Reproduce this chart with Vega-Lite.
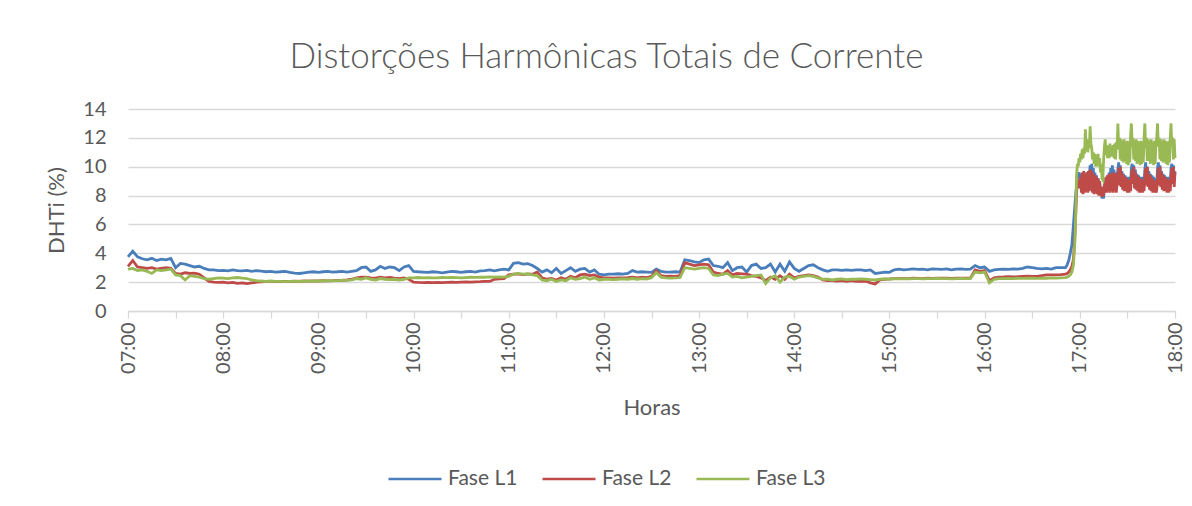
{
"$schema":"https://vega.github.io/schema/vega-lite/v6.json",
"width":1047,"height":202,
"autosize":{"type":"none"},
"padding":{"left":128,"top":109,"right":17,"bottom":195},
"background":"white",
"title":{"text":"Distorções Harmônicas Totais de Corrente","font":"Lato","fontSize":35,"fontWeight":300,"color":"#595959","anchor":"middle","dx":-45,"offset":24},
"config":{"view":{"stroke":null},"font":"Lato"},
"data":{"format":{"parse":{"t":"date:'%H:%M:%S'"}},"values":[
{"t":"07:00:00","L1":3.75,"L2":3.1,"L3":2.9},
{"t":"07:03:00","L1":4.15,"L2":3.5,"L3":2.95},
{"t":"07:06:00","L1":3.75,"L2":3.05,"L3":2.8},
{"t":"07:09:00","L1":3.62,"L2":3.0,"L3":2.85},
{"t":"07:12:00","L1":3.55,"L2":2.95,"L3":2.75},
{"t":"07:15:00","L1":3.65,"L2":3.0,"L3":2.6},
{"t":"07:18:00","L1":3.5,"L2":2.9,"L3":2.85},
{"t":"07:21:00","L1":3.6,"L2":2.95,"L3":2.8},
{"t":"07:24:00","L1":3.55,"L2":3.0,"L3":2.85},
{"t":"07:27:00","L1":3.65,"L2":2.95,"L3":2.9},
{"t":"07:30:00","L1":3.0,"L2":2.6,"L3":2.5},
{"t":"07:33:00","L1":3.3,"L2":2.55,"L3":2.45},
{"t":"07:36:00","L1":3.25,"L2":2.65,"L3":2.15},
{"t":"07:39:00","L1":3.15,"L2":2.6,"L3":2.45},
{"t":"07:42:00","L1":3.05,"L2":2.62,"L3":2.4},
{"t":"07:45:00","L1":3.1,"L2":2.55,"L3":2.35},
{"t":"07:48:00","L1":2.95,"L2":2.3,"L3":2.25},
{"t":"07:51:00","L1":2.85,"L2":2.05,"L3":2.2},
{"t":"07:54:00","L1":2.85,"L2":2.0,"L3":2.25},
{"t":"07:57:00","L1":2.8,"L2":1.98,"L3":2.3},
{"t":"08:00:00","L1":2.82,"L2":2.0,"L3":2.28},
{"t":"08:03:00","L1":2.78,"L2":1.95,"L3":2.25},
{"t":"08:06:00","L1":2.85,"L2":1.98,"L3":2.3},
{"t":"08:09:00","L1":2.8,"L2":1.92,"L3":2.32},
{"t":"08:12:00","L1":2.78,"L2":1.95,"L3":2.28},
{"t":"08:15:00","L1":2.82,"L2":1.9,"L3":2.25},
{"t":"08:18:00","L1":2.75,"L2":1.95,"L3":2.15},
{"t":"08:21:00","L1":2.8,"L2":2.0,"L3":2.1},
{"t":"08:24:00","L1":2.76,"L2":2.02,"L3":2.08},
{"t":"08:27:00","L1":2.72,"L2":2.05,"L3":2.05},
{"t":"08:30:00","L1":2.75,"L2":2.05,"L3":2.08},
{"t":"08:33:00","L1":2.7,"L2":2.06,"L3":2.05},
{"t":"08:36:00","L1":2.72,"L2":2.04,"L3":2.06},
{"t":"08:39:00","L1":2.75,"L2":2.06,"L3":2.04},
{"t":"08:42:00","L1":2.68,"L2":2.05,"L3":2.06},
{"t":"08:45:00","L1":2.62,"L2":2.07,"L3":2.05},
{"t":"08:48:00","L1":2.6,"L2":2.06,"L3":2.07},
{"t":"08:51:00","L1":2.65,"L2":2.08,"L3":2.06},
{"t":"08:54:00","L1":2.7,"L2":2.07,"L3":2.08},
{"t":"08:57:00","L1":2.72,"L2":2.08,"L3":2.07},
{"t":"09:00:00","L1":2.68,"L2":2.08,"L3":2.09},
{"t":"09:03:00","L1":2.72,"L2":2.1,"L3":2.08},
{"t":"09:06:00","L1":2.75,"L2":2.09,"L3":2.1},
{"t":"09:09:00","L1":2.7,"L2":2.1,"L3":2.09},
{"t":"09:12:00","L1":2.72,"L2":2.12,"L3":2.11},
{"t":"09:15:00","L1":2.75,"L2":2.13,"L3":2.12},
{"t":"09:18:00","L1":2.7,"L2":2.15,"L3":2.12},
{"t":"09:21:00","L1":2.75,"L2":2.2,"L3":2.15},
{"t":"09:24:00","L1":2.8,"L2":2.3,"L3":2.25},
{"t":"09:27:00","L1":3.0,"L2":2.35,"L3":2.2},
{"t":"09:30:00","L1":3.05,"L2":2.35,"L3":2.3},
{"t":"09:33:00","L1":2.75,"L2":2.3,"L3":2.2},
{"t":"09:36:00","L1":2.85,"L2":2.28,"L3":2.15},
{"t":"09:39:00","L1":3.1,"L2":2.35,"L3":2.25},
{"t":"09:42:00","L1":2.95,"L2":2.3,"L3":2.2},
{"t":"09:45:00","L1":3.05,"L2":2.32,"L3":2.18},
{"t":"09:48:00","L1":3.0,"L2":2.28,"L3":2.2},
{"t":"09:51:00","L1":2.8,"L2":2.25,"L3":2.15},
{"t":"09:54:00","L1":3.05,"L2":2.3,"L3":2.2},
{"t":"09:57:00","L1":3.15,"L2":2.2,"L3":2.3},
{"t":"10:00:00","L1":2.75,"L2":2.0,"L3":2.3},
{"t":"10:03:00","L1":2.72,"L2":1.98,"L3":2.32},
{"t":"10:06:00","L1":2.7,"L2":1.97,"L3":2.3},
{"t":"10:09:00","L1":2.68,"L2":1.98,"L3":2.31},
{"t":"10:12:00","L1":2.72,"L2":1.96,"L3":2.29},
{"t":"10:15:00","L1":2.7,"L2":1.98,"L3":2.3},
{"t":"10:18:00","L1":2.65,"L2":1.97,"L3":2.32},
{"t":"10:21:00","L1":2.7,"L2":1.99,"L3":2.31},
{"t":"10:24:00","L1":2.75,"L2":2.0,"L3":2.33},
{"t":"10:27:00","L1":2.72,"L2":1.98,"L3":2.32},
{"t":"10:30:00","L1":2.68,"L2":2.0,"L3":2.3},
{"t":"10:33:00","L1":2.72,"L2":2.01,"L3":2.32},
{"t":"10:36:00","L1":2.75,"L2":2.0,"L3":2.34},
{"t":"10:39:00","L1":2.7,"L2":2.02,"L3":2.33},
{"t":"10:42:00","L1":2.78,"L2":2.03,"L3":2.35},
{"t":"10:45:00","L1":2.8,"L2":2.05,"L3":2.34},
{"t":"10:48:00","L1":2.85,"L2":2.05,"L3":2.36},
{"t":"10:51:00","L1":2.78,"L2":2.2,"L3":2.35},
{"t":"10:54:00","L1":2.85,"L2":2.22,"L3":2.36},
{"t":"10:57:00","L1":2.9,"L2":2.25,"L3":2.35},
{"t":"11:00:00","L1":2.85,"L2":2.5,"L3":2.4},
{"t":"11:03:00","L1":3.3,"L2":2.55,"L3":2.55},
{"t":"11:06:00","L1":3.35,"L2":2.55,"L3":2.6},
{"t":"11:09:00","L1":3.25,"L2":2.52,"L3":2.55},
{"t":"11:12:00","L1":3.28,"L2":2.55,"L3":2.58},
{"t":"11:15:00","L1":3.15,"L2":2.55,"L3":2.5},
{"t":"11:18:00","L1":2.95,"L2":2.7,"L3":2.45},
{"t":"11:21:00","L1":2.7,"L2":2.3,"L3":2.15},
{"t":"11:24:00","L1":2.85,"L2":2.2,"L3":2.1},
{"t":"11:27:00","L1":2.65,"L2":2.25,"L3":2.2},
{"t":"11:30:00","L1":2.95,"L2":2.15,"L3":2.05},
{"t":"11:33:00","L1":2.6,"L2":2.3,"L3":2.15},
{"t":"11:36:00","L1":2.8,"L2":2.2,"L3":2.1},
{"t":"11:39:00","L1":3.0,"L2":2.4,"L3":2.3},
{"t":"11:42:00","L1":2.75,"L2":2.3,"L3":2.2},
{"t":"11:45:00","L1":2.9,"L2":2.5,"L3":2.25},
{"t":"11:48:00","L1":2.95,"L2":2.55,"L3":2.35},
{"t":"11:51:00","L1":2.7,"L2":2.45,"L3":2.2},
{"t":"11:54:00","L1":2.85,"L2":2.5,"L3":2.3},
{"t":"11:57:00","L1":2.55,"L2":2.35,"L3":2.15},
{"t":"12:00:00","L1":2.5,"L2":2.3,"L3":2.2},
{"t":"12:03:00","L1":2.55,"L2":2.3,"L3":2.2},
{"t":"12:06:00","L1":2.55,"L2":2.28,"L3":2.18},
{"t":"12:09:00","L1":2.58,"L2":2.3,"L3":2.2},
{"t":"12:12:00","L1":2.55,"L2":2.3,"L3":2.22},
{"t":"12:15:00","L1":2.6,"L2":2.32,"L3":2.2},
{"t":"12:18:00","L1":2.8,"L2":2.35,"L3":2.25},
{"t":"12:21:00","L1":2.7,"L2":2.3,"L3":2.2},
{"t":"12:24:00","L1":2.72,"L2":2.35,"L3":2.25},
{"t":"12:27:00","L1":2.7,"L2":2.32,"L3":2.22},
{"t":"12:30:00","L1":2.68,"L2":2.4,"L3":2.3},
{"t":"12:33:00","L1":2.9,"L2":2.8,"L3":2.65},
{"t":"12:36:00","L1":2.75,"L2":2.45,"L3":2.35},
{"t":"12:39:00","L1":2.7,"L2":2.4,"L3":2.3},
{"t":"12:42:00","L1":2.7,"L2":2.42,"L3":2.28},
{"t":"12:45:00","L1":2.72,"L2":2.4,"L3":2.3},
{"t":"12:48:00","L1":2.7,"L2":2.45,"L3":2.32},
{"t":"12:51:00","L1":3.55,"L2":3.35,"L3":3.0},
{"t":"12:54:00","L1":3.5,"L2":3.25,"L3":2.95},
{"t":"12:57:00","L1":3.4,"L2":3.15,"L3":2.9},
{"t":"13:00:00","L1":3.35,"L2":3.2,"L3":2.95},
{"t":"13:03:00","L1":3.55,"L2":3.25,"L3":3.0},
{"t":"13:06:00","L1":3.6,"L2":3.2,"L3":2.95},
{"t":"13:09:00","L1":3.15,"L2":2.7,"L3":2.5},
{"t":"13:12:00","L1":3.1,"L2":2.6,"L3":2.45},
{"t":"13:15:00","L1":3.0,"L2":2.55,"L3":2.55},
{"t":"13:18:00","L1":3.35,"L2":2.8,"L3":2.6},
{"t":"13:21:00","L1":2.8,"L2":2.5,"L3":2.35},
{"t":"13:24:00","L1":3.0,"L2":2.6,"L3":2.4},
{"t":"13:27:00","L1":3.05,"L2":2.58,"L3":2.3},
{"t":"13:30:00","L1":2.7,"L2":2.55,"L3":2.35},
{"t":"13:33:00","L1":3.15,"L2":2.45,"L3":2.4},
{"t":"13:36:00","L1":3.25,"L2":2.4,"L3":2.45},
{"t":"13:39:00","L1":2.95,"L2":2.3,"L3":2.5},
{"t":"13:42:00","L1":3.0,"L2":2.1,"L3":1.9},
{"t":"13:45:00","L1":3.25,"L2":2.35,"L3":2.3},
{"t":"13:48:00","L1":2.7,"L2":2.2,"L3":2.45},
{"t":"13:51:00","L1":3.25,"L2":2.45,"L3":2.0},
{"t":"13:54:00","L1":2.75,"L2":2.2,"L3":2.35},
{"t":"13:57:00","L1":3.4,"L2":2.55,"L3":2.4},
{"t":"14:00:00","L1":2.95,"L2":2.3,"L3":2.2},
{"t":"14:03:00","L1":2.75,"L2":2.4,"L3":2.35},
{"t":"14:06:00","L1":2.95,"L2":2.45,"L3":2.4},
{"t":"14:09:00","L1":3.15,"L2":2.5,"L3":2.45},
{"t":"14:12:00","L1":3.2,"L2":2.45,"L3":2.4},
{"t":"14:15:00","L1":3.0,"L2":2.35,"L3":2.3},
{"t":"14:18:00","L1":2.85,"L2":2.15,"L3":2.2},
{"t":"14:21:00","L1":2.75,"L2":2.1,"L3":2.2},
{"t":"14:24:00","L1":2.85,"L2":2.1,"L3":2.15},
{"t":"14:27:00","L1":2.85,"L2":2.08,"L3":2.2},
{"t":"14:30:00","L1":2.82,"L2":2.1,"L3":2.22},
{"t":"14:33:00","L1":2.85,"L2":2.05,"L3":2.18},
{"t":"14:36:00","L1":2.82,"L2":2.1,"L3":2.2},
{"t":"14:39:00","L1":2.85,"L2":2.05,"L3":2.2},
{"t":"14:42:00","L1":2.85,"L2":2.05,"L3":2.22},
{"t":"14:45:00","L1":2.8,"L2":2.08,"L3":2.2},
{"t":"14:48:00","L1":2.85,"L2":1.95,"L3":2.18},
{"t":"14:51:00","L1":2.6,"L2":1.88,"L3":2.15},
{"t":"14:54:00","L1":2.65,"L2":2.15,"L3":2.2},
{"t":"14:57:00","L1":2.7,"L2":2.2,"L3":2.22},
{"t":"15:00:00","L1":2.68,"L2":2.22,"L3":2.2},
{"t":"15:03:00","L1":2.85,"L2":2.25,"L3":2.24},
{"t":"15:06:00","L1":2.9,"L2":2.24,"L3":2.22},
{"t":"15:09:00","L1":2.85,"L2":2.26,"L3":2.25},
{"t":"15:12:00","L1":2.88,"L2":2.25,"L3":2.23},
{"t":"15:15:00","L1":2.92,"L2":2.27,"L3":2.25},
{"t":"15:18:00","L1":2.88,"L2":2.26,"L3":2.24},
{"t":"15:21:00","L1":2.9,"L2":2.25,"L3":2.22},
{"t":"15:24:00","L1":2.85,"L2":2.27,"L3":2.25},
{"t":"15:27:00","L1":2.92,"L2":2.26,"L3":2.24},
{"t":"15:30:00","L1":2.9,"L2":2.28,"L3":2.26},
{"t":"15:33:00","L1":2.88,"L2":2.27,"L3":2.25},
{"t":"15:36:00","L1":2.92,"L2":2.28,"L3":2.24},
{"t":"15:39:00","L1":2.85,"L2":2.26,"L3":2.23},
{"t":"15:42:00","L1":2.9,"L2":2.27,"L3":2.25},
{"t":"15:45:00","L1":2.92,"L2":2.28,"L3":2.26},
{"t":"15:48:00","L1":2.88,"L2":2.27,"L3":2.24},
{"t":"15:51:00","L1":2.9,"L2":2.28,"L3":2.25},
{"t":"15:54:00","L1":3.15,"L2":2.85,"L3":2.7},
{"t":"15:57:00","L1":3.0,"L2":2.75,"L3":2.65},
{"t":"16:00:00","L1":3.05,"L2":2.8,"L3":2.7},
{"t":"16:03:00","L1":2.75,"L2":2.1,"L3":1.95},
{"t":"16:06:00","L1":2.85,"L2":2.3,"L3":2.2},
{"t":"16:09:00","L1":2.88,"L2":2.35,"L3":2.24},
{"t":"16:12:00","L1":2.9,"L2":2.36,"L3":2.25},
{"t":"16:15:00","L1":2.88,"L2":2.38,"L3":2.26},
{"t":"16:18:00","L1":2.92,"L2":2.37,"L3":2.25},
{"t":"16:21:00","L1":2.9,"L2":2.38,"L3":2.27},
{"t":"16:24:00","L1":2.95,"L2":2.4,"L3":2.26},
{"t":"16:27:00","L1":3.05,"L2":2.42,"L3":2.28},
{"t":"16:30:00","L1":3.0,"L2":2.4,"L3":2.27},
{"t":"16:33:00","L1":2.95,"L2":2.4,"L3":2.26},
{"t":"16:36:00","L1":2.92,"L2":2.45,"L3":2.28},
{"t":"16:39:00","L1":2.95,"L2":2.5,"L3":2.27},
{"t":"16:42:00","L1":2.9,"L2":2.5,"L3":2.29},
{"t":"16:45:00","L1":3.0,"L2":2.5,"L3":2.28},
{"t":"16:48:00","L1":3.0,"L2":2.52,"L3":2.3},
{"t":"16:51:00","L1":3.0,"L2":2.55,"L3":2.32},
{"t":"16:52:00","L1":3.2,"L2":2.6,"L3":2.35},
{"t":"16:53:00","L1":3.5,"L2":2.7,"L3":2.4},
{"t":"16:54:00","L1":4.0,"L2":2.85,"L3":2.5},
{"t":"16:55:00","L1":4.6,"L2":3.1,"L3":2.7},
{"t":"16:56:00","L1":6.0,"L2":3.6,"L3":3.2},
{"t":"16:57:00","L1":7.5,"L2":5.5,"L3":5.0},
{"t":"16:58:00","L1":8.8,"L2":8.3,"L3":9.5},
{"t":"16:58:30","L1":9.6,"L2":9.0,"L3":10.2},
{"t":"16:59:00","L1":9.4,"L2":8.7,"L3":10.0},
{"t":"16:59:30","L1":9.6,"L2":9.1,"L3":10.6},
{"t":"17:00:00","L1":9.2,"L2":8.5,"L3":10.3},
{"t":"17:00:30","L1":9.5,"L2":9.3,"L3":10.9},
{"t":"17:01:00","L1":9.1,"L2":8.2,"L3":10.5},
{"t":"17:01:30","L1":9.5,"L2":9.6,"L3":11.2},
{"t":"17:02:00","L1":9.0,"L2":8.1,"L3":10.6},
{"t":"17:02:30","L1":9.3,"L2":9.7,"L3":11.3},
{"t":"17:03:00","L1":8.9,"L2":8.2,"L3":10.9},
{"t":"17:03:30","L1":9.4,"L2":9.5,"L3":12.6},
{"t":"17:04:00","L1":9.1,"L2":8.3,"L3":11.2},
{"t":"17:04:30","L1":9.6,"L2":9.6,"L3":11.9},
{"t":"17:05:00","L1":9.0,"L2":8.2,"L3":11.0},
{"t":"17:05:30","L1":9.7,"L2":9.7,"L3":11.6},
{"t":"17:06:00","L1":9.3,"L2":8.3,"L3":11.3},
{"t":"17:06:30","L1":10.1,"L2":9.8,"L3":12.8},
{"t":"17:07:00","L1":9.4,"L2":8.4,"L3":11.6},
{"t":"17:07:30","L1":10.2,"L2":9.7,"L3":11.3},
{"t":"17:08:00","L1":9.2,"L2":8.2,"L3":10.5},
{"t":"17:08:30","L1":9.9,"L2":9.5,"L3":11.0},
{"t":"17:09:00","L1":9.0,"L2":8.1,"L3":10.2},
{"t":"17:09:30","L1":9.6,"L2":9.4,"L3":10.9},
{"t":"17:10:00","L1":8.9,"L2":8.2,"L3":10.0},
{"t":"17:10:30","L1":9.4,"L2":9.3,"L3":10.8},
{"t":"17:11:00","L1":8.7,"L2":8.1,"L3":10.1},
{"t":"17:11:30","L1":9.2,"L2":9.2,"L3":10.9},
{"t":"17:12:00","L1":8.5,"L2":8.0,"L3":10.0},
{"t":"17:12:30","L1":9.0,"L2":9.0,"L3":10.6},
{"t":"17:13:00","L1":8.2,"L2":8.0,"L3":9.6},
{"t":"17:13:30","L1":8.6,"L2":8.6,"L3":10.2},
{"t":"17:14:00","L1":7.8,"L2":7.9,"L3":9.2},
{"t":"17:14:30","L1":8.0,"L2":8.3,"L3":9.1},
{"t":"17:15:00","L1":7.8,"L2":8.0,"L3":10.5},
{"t":"17:15:30","L1":8.7,"L2":8.9,"L3":11.4},
{"t":"17:16:00","L1":8.5,"L2":8.2,"L3":11.9},
{"t":"17:16:30","L1":9.2,"L2":9.3,"L3":10.8},
{"t":"17:17:00","L1":8.6,"L2":8.2,"L3":11.5},
{"t":"17:17:30","L1":9.4,"L2":9.4,"L3":10.6},
{"t":"17:18:00","L1":8.8,"L2":8.3,"L3":11.4},
{"t":"17:18:30","L1":9.6,"L2":9.5,"L3":10.6},
{"t":"17:19:00","L1":9.0,"L2":8.2,"L3":11.6},
{"t":"17:19:30","L1":9.9,"L2":9.5,"L3":10.7},
{"t":"17:20:00","L1":9.1,"L2":8.3,"L3":11.3},
{"t":"17:20:30","L1":10.1,"L2":9.6,"L3":10.8},
{"t":"17:21:00","L1":9.0,"L2":8.2,"L3":11.5},
{"t":"17:21:30","L1":9.8,"L2":9.6,"L3":10.6},
{"t":"17:22:00","L1":8.9,"L2":8.3,"L3":11.6},
{"t":"17:22:30","L1":9.6,"L2":9.5,"L3":10.5},
{"t":"17:23:00","L1":8.8,"L2":8.2,"L3":11.7},
{"t":"17:23:30","L1":9.3,"L2":8.9,"L3":11.2},
{"t":"17:24:00","L1":9.8,"L2":9.3,"L3":13.0},
{"t":"17:24:30","L1":10.3,"L2":9.9,"L3":11.3},
{"t":"17:25:00","L1":9.2,"L2":8.7,"L3":12.0},
{"t":"17:25:30","L1":10.1,"L2":10.0,"L3":10.5},
{"t":"17:26:00","L1":9.0,"L2":8.6,"L3":11.9},
{"t":"17:26:30","L1":9.7,"L2":9.6,"L3":10.4},
{"t":"17:27:00","L1":8.8,"L2":8.4,"L3":11.8},
{"t":"17:27:30","L1":9.5,"L2":9.4,"L3":10.3},
{"t":"17:28:00","L1":8.7,"L2":8.3,"L3":11.9},
{"t":"17:28:30","L1":9.4,"L2":9.3,"L3":10.4},
{"t":"17:29:00","L1":8.6,"L2":8.3,"L3":11.7},
{"t":"17:29:30","L1":9.3,"L2":9.2,"L3":10.2},
{"t":"17:30:00","L1":8.6,"L2":8.2,"L3":11.8},
{"t":"17:30:30","L1":9.3,"L2":9.1,"L3":10.1},
{"t":"17:31:00","L1":8.6,"L2":8.2,"L3":11.7},
{"t":"17:31:30","L1":9.2,"L2":9.0,"L3":10.3},
{"t":"17:32:00","L1":8.8,"L2":8.3,"L3":12.1},
{"t":"17:32:30","L1":9.9,"L2":9.4,"L3":13.0},
{"t":"17:33:00","L1":10.2,"L2":9.8,"L3":11.4},
{"t":"17:33:30","L1":9.3,"L2":8.8,"L3":12.0},
{"t":"17:34:00","L1":10.1,"L2":10.0,"L3":10.5},
{"t":"17:34:30","L1":9.0,"L2":8.5,"L3":11.8},
{"t":"17:35:00","L1":9.8,"L2":9.6,"L3":10.4},
{"t":"17:35:30","L1":8.9,"L2":8.4,"L3":11.9},
{"t":"17:36:00","L1":9.5,"L2":9.4,"L3":10.2},
{"t":"17:36:30","L1":8.7,"L2":8.3,"L3":11.8},
{"t":"17:37:00","L1":9.4,"L2":9.3,"L3":10.3},
{"t":"17:37:30","L1":8.7,"L2":8.2,"L3":11.7},
{"t":"17:38:00","L1":9.3,"L2":9.2,"L3":10.1},
{"t":"17:38:30","L1":8.6,"L2":8.2,"L3":11.8},
{"t":"17:39:00","L1":9.3,"L2":9.1,"L3":10.2},
{"t":"17:39:30","L1":8.6,"L2":8.2,"L3":11.7},
{"t":"17:40:00","L1":9.2,"L2":9.0,"L3":10.3},
{"t":"17:40:30","L1":8.8,"L2":8.3,"L3":12.0},
{"t":"17:41:00","L1":9.8,"L2":9.3,"L3":13.0},
{"t":"17:41:30","L1":10.3,"L2":9.9,"L3":11.3},
{"t":"17:42:00","L1":9.2,"L2":8.7,"L3":12.0},
{"t":"17:42:30","L1":10.0,"L2":10.0,"L3":10.4},
{"t":"17:43:00","L1":9.0,"L2":8.6,"L3":11.9},
{"t":"17:43:30","L1":9.7,"L2":9.5,"L3":10.4},
{"t":"17:44:00","L1":8.8,"L2":8.4,"L3":11.8},
{"t":"17:44:30","L1":9.5,"L2":9.4,"L3":10.2},
{"t":"17:45:00","L1":8.7,"L2":8.3,"L3":11.9},
{"t":"17:45:30","L1":9.4,"L2":9.2,"L3":10.3},
{"t":"17:46:00","L1":8.6,"L2":8.2,"L3":11.7},
{"t":"17:46:30","L1":9.3,"L2":9.1,"L3":10.1},
{"t":"17:47:00","L1":8.6,"L2":8.2,"L3":11.8},
{"t":"17:47:30","L1":9.2,"L2":9.0,"L3":10.2},
{"t":"17:48:00","L1":8.6,"L2":8.2,"L3":11.7},
{"t":"17:48:30","L1":8.9,"L2":8.4,"L3":12.0},
{"t":"17:49:00","L1":9.9,"L2":9.3,"L3":13.0},
{"t":"17:49:30","L1":10.3,"L2":9.9,"L3":11.4},
{"t":"17:50:00","L1":9.2,"L2":8.7,"L3":12.0},
{"t":"17:50:30","L1":10.1,"L2":10.0,"L3":10.5},
{"t":"17:51:00","L1":9.0,"L2":8.6,"L3":11.9},
{"t":"17:51:30","L1":9.7,"L2":9.6,"L3":10.4},
{"t":"17:52:00","L1":8.8,"L2":8.4,"L3":11.8},
{"t":"17:52:30","L1":9.5,"L2":9.4,"L3":10.3},
{"t":"17:53:00","L1":8.7,"L2":8.3,"L3":11.9},
{"t":"17:53:30","L1":9.4,"L2":9.3,"L3":10.3},
{"t":"17:54:00","L1":8.6,"L2":8.3,"L3":11.8},
{"t":"17:54:30","L1":9.3,"L2":9.2,"L3":10.2},
{"t":"17:55:00","L1":8.6,"L2":8.2,"L3":11.7},
{"t":"17:55:30","L1":9.3,"L2":9.1,"L3":10.1},
{"t":"17:56:00","L1":8.6,"L2":8.2,"L3":11.8},
{"t":"17:56:30","L1":9.2,"L2":9.0,"L3":10.3},
{"t":"17:57:00","L1":8.8,"L2":8.3,"L3":12.0},
{"t":"17:57:30","L1":9.9,"L2":9.4,"L3":13.0},
{"t":"17:58:00","L1":10.2,"L2":9.9,"L3":11.4},
{"t":"17:58:30","L1":9.3,"L2":8.8,"L3":12.0},
{"t":"17:59:00","L1":10.1,"L2":10.0,"L3":10.5},
{"t":"17:59:30","L1":9.0,"L2":8.6,"L3":11.9},
{"t":"18:00:00","L1":9.7,"L2":9.6,"L3":10.6}
]},
"transform":[{"fold":["L1","L2","L3"],"as":["Serie","DHTi"]}],
"mark":{"type":"line","strokeWidth":2.8},
"encoding":{
"x":{"field":"t","type":"temporal","scale":{"nice":false},
"axis":{"title":"Horas","titleFont":"Lato","titleFontSize":22,"titleFontWeight":"normal","titleColor":"#595959","titlePadding":24,
"format":"%H:%M",
"values":[
{"year":1900,"month":1,"date":1,"hours":7,"minutes":0},{"year":1900,"month":1,"date":1,"hours":7,"minutes":30},
{"year":1900,"month":1,"date":1,"hours":8,"minutes":0},{"year":1900,"month":1,"date":1,"hours":8,"minutes":30},
{"year":1900,"month":1,"date":1,"hours":9,"minutes":0},{"year":1900,"month":1,"date":1,"hours":9,"minutes":30},
{"year":1900,"month":1,"date":1,"hours":10,"minutes":0},{"year":1900,"month":1,"date":1,"hours":10,"minutes":30},
{"year":1900,"month":1,"date":1,"hours":11,"minutes":0},{"year":1900,"month":1,"date":1,"hours":11,"minutes":30},
{"year":1900,"month":1,"date":1,"hours":12,"minutes":0},{"year":1900,"month":1,"date":1,"hours":12,"minutes":30},
{"year":1900,"month":1,"date":1,"hours":13,"minutes":0},{"year":1900,"month":1,"date":1,"hours":13,"minutes":30},
{"year":1900,"month":1,"date":1,"hours":14,"minutes":0},{"year":1900,"month":1,"date":1,"hours":14,"minutes":30},
{"year":1900,"month":1,"date":1,"hours":15,"minutes":0},{"year":1900,"month":1,"date":1,"hours":15,"minutes":30},
{"year":1900,"month":1,"date":1,"hours":16,"minutes":0},{"year":1900,"month":1,"date":1,"hours":16,"minutes":30},
{"year":1900,"month":1,"date":1,"hours":17,"minutes":0},{"year":1900,"month":1,"date":1,"hours":17,"minutes":30},
{"year":1900,"month":1,"date":1,"hours":18,"minutes":0}],
"labelExpr":"indexof(datum.label, ':30') >= 0 ? '' : datum.label",
"labelAngle":-90,"labelFont":"Lato","labelFontSize":20,"labelColor":"#595959","labelPadding":4,"labelOverlap":false,"labelFlush":false,"labelBound":false,
"grid":false,"tickSize":7,"tickColor":"#d9d9d9","tickWidth":1.3,"domainColor":"#d9d9d9","domainWidth":1.3}},
"y":{"field":"DHTi","type":"quantitative","scale":{"domain":[0,14],"nice":false},
"axis":{"title":"DHTi (%)","titleFont":"Lato","titleFontSize":22,"titleFontWeight":"normal","titleColor":"#595959","titlePadding":14,
"values":[0,2,4,6,8,10,12,14],"labelFont":"Lato","labelFontSize":20,"labelColor":"#595959","labelPadding":22,
"ticks":false,"domain":false,"grid":true,"gridColor":"#d9d9d9","gridWidth":1.3}},
"color":{"field":"Serie","type":"nominal","scale":{"domain":["L1","L2","L3"],"range":["#4A7EBB","#BE4B48","#98B954"]},
"legend":{"title":null,"orient":"none","legendX":259,"legendY":342,"direction":"horizontal","symbolType":"stroke","symbolSize":2809,"symbolStrokeWidth":2.5,
"labelExpr":"'Fase ' + datum.label","labelFont":"Lato","labelFontSize":21,"labelColor":"#595959","labelOffset":5,"columnPadding":19,"padding":0}}
}
}
